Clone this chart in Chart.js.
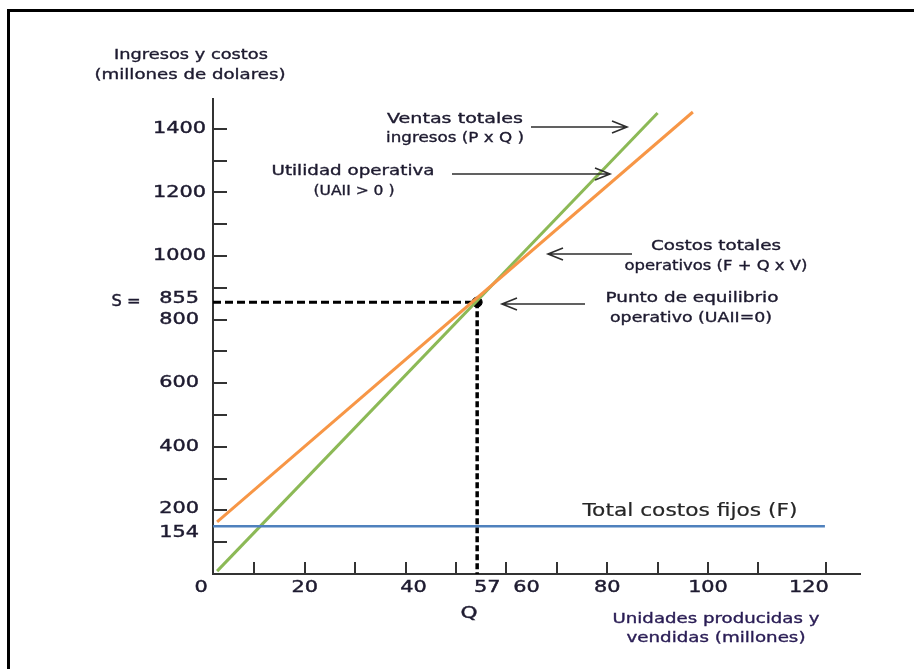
<!DOCTYPE html>
<html>
<head>
<meta charset="utf-8">
<title>Punto de equilibrio operativo</title>
<script src="https://cdn.jsdelivr.net/npm/chart.js@4"></script>
<style>
  html, body { margin: 0; padding: 0; background: #fff; }
  #chart { display: block; }
</style>
</head>
<body>
<canvas id="chart" width="914" height="669"></canvas>
<script>
// Values (Q in millions of units, $ in millions)
const salesQ = [2.6, 90];
const salesValue = [9, 1450];
const costQ = [2.6, 97];
const costValue = [164, 1453];
const fixedQ = [1.8, 123.2];
const fixedValue = [150, 150];
const breakEvenQ = 54.2;
const breakEvenS = 855;

const yTickMarks = [100, 200, 300, 400, 500, 600, 700, 800, 900, 1000, 1100, 1200, 1300, 1400];
const xTickMarks = [10, 20, 30, 40, 50, 60, 70, 80, 90, 100, 110, 123.4];
const yTickLabels = [1400, 1200, 1000, 855, 800, 600, 400, 200, 154];
const xTickLabels = [0, 20, 40, 57, 60, 80, 100, 120];

const X_MIN = 1.786, X_MAX = 130.36, Y_MIN = 0, Y_MAX = 1497;

const GREEN = '#8cb956';
const ORANGE = '#f79646';
const BLUE = '#4f81bd';
const AXIS = '#333333';
const INK = '#1e1b30';
const FONT = '"DejaVu Sans", Verdana, sans-serif';

const pts = (xs, ys) => xs.map((x, i) => ({ x: x, y: ys[i] }));

// draw text squeezed/stretched horizontally, with a light stroke to thicken it
function drawText(ctx, text, x, y, size, opts) {
    opts = opts || {};
    ctx.save();
    ctx.font = size + 'px ' + FONT;
    const w = ctx.measureText(text).width;
    const sx = opts.width ? opts.width / w : (opts.scaleX || 1);
    ctx.translate(x, y);
    ctx.scale(sx, 1);
    ctx.textAlign = opts.align || 'center';
    ctx.textBaseline = 'middle';
    ctx.fillStyle = opts.color || INK;
    ctx.fillText(text, 0, 0);
    if (opts.heavy !== 0) {
        ctx.strokeStyle = opts.color || INK;
        ctx.lineWidth = opts.heavy || 0.35;
        ctx.strokeText(text, 0, 0);
    }
    ctx.restore();
}

function arrow(ctx, x1, y, x2) {
    const dir = x2 > x1 ? 1 : -1;
    ctx.save();
    ctx.strokeStyle = '#2e2e2e';
    ctx.lineWidth = 1.6;
    ctx.beginPath();
    ctx.moveTo(x1, y);
    ctx.lineTo(x2, y);
    ctx.moveTo(x2 - dir * 15, y - 6);
    ctx.lineTo(x2, y);
    ctx.lineTo(x2 - dir * 15, y + 6);
    ctx.stroke();
    ctx.restore();
}

// axes with inward ticks
const axesPlugin = {
    id: 'axes',
    beforeDatasetsDraw(chart) {
        const { ctx, chartArea: a, scales: { x, y } } = chart;
        ctx.save();
        ctx.strokeStyle = AXIS;
        ctx.lineWidth = 2;
        ctx.beginPath();
        ctx.moveTo(a.left, a.top);
        ctx.lineTo(a.left, a.bottom);
        ctx.lineTo(a.right, a.bottom);
        yTickMarks.forEach(v => {
            const py = Math.round(y.getPixelForValue(v));
            ctx.moveTo(a.left, py);
            ctx.lineTo(a.left + 14, py);
        });
        xTickMarks.forEach(v => {
            const px = Math.round(x.getPixelForValue(v));
            ctx.moveTo(px, a.bottom);
            ctx.lineTo(px, a.bottom - 12);
        });
        ctx.stroke();
        ctx.restore();
    }
};

// tick labels and annotations
const labelsPlugin = {
    id: 'labels',
    afterDraw(chart) {
        const { ctx, chartArea: a, scales: { x, y } } = chart;

        // frame
        ctx.save();
        ctx.strokeStyle = '#000';
        ctx.lineWidth = 3;
        ctx.beginPath();
        ctx.moveTo(8.5, 669);
        ctx.lineTo(8.5, 10.5);
        ctx.lineTo(914, 10.5);
        ctx.stroke();
        ctx.restore();

        // y tick labels (nudged like the original)
        const yNudge = { 855: -3, 200: -2, 154: 8 };
        yTickLabels.forEach(v => {
            const py = y.getPixelForValue(v) + (yNudge[v] || 0);
            const right = v >= 1000 ? 206 : 199;
            drawText(ctx, String(v), right, py, 16, { align: 'right', scaleX: 1.3, heavy: 0.45 });
        });

        // x tick labels
        const xNudge = { 0: -3, 40: 8, 57: -4, 60: 20 };
        xTickLabels.forEach(v => {
            const px = x.getPixelForValue(v) + (xNudge[v] || 0);
            drawText(ctx, String(v), px, a.bottom + 14, 16, { scaleX: 1.3, heavy: 0.45 });
        });

        drawText(ctx, 'S =', 126, 302, 16, { width: 29, heavy: 0.45 });
        drawText(ctx, 'Q', 469, 614, 16, { width: 17, heavy: 0.45 });

        // axis titles
        drawText(ctx, 'Ingresos y costos', 191, 55, 14, { width: 154 });
        drawText(ctx, '(millones de dolares)', 190, 75, 14, { width: 191 });
        drawText(ctx, 'Unidades producidas y', 716, 619, 14, { width: 207, color: '#2a1d55' });
        drawText(ctx, 'vendidas (millones)', 716, 638, 14, { width: 179, color: '#2a1d55' });

        // annotations
        drawText(ctx, 'Ventas totales', 455, 119, 14, { width: 136 });
        drawText(ctx, 'ingresos (P x Q )', 455, 138, 14, { width: 138 });
        arrow(ctx, 531, 127, 627);

        drawText(ctx, 'Utilidad operativa', 353, 171, 14, { width: 163 });
        drawText(ctx, '(UAII > 0 )', 354, 191, 14, { width: 81 });
        arrow(ctx, 452, 174, 610);

        drawText(ctx, 'Costos totales', 716, 246, 14, { width: 130 });
        drawText(ctx, 'operativos (F + Q x V)', 716, 266, 14, { width: 183 });
        arrow(ctx, 632, 254, 548);

        drawText(ctx, 'Punto de equilibrio', 692, 298, 14, { width: 173 });
        drawText(ctx, 'operativo (UAII=0)', 691, 318, 14, { width: 162 });
        arrow(ctx, 585, 304, 502);

        drawText(ctx, 'Total costos fijos (F)', 690, 512, 17, { width: 215, color: '#262626', heavy: 0.2 });
    }
};

new Chart(document.getElementById('chart'), {
    type: 'scatter',
    data: {
        datasets: [
            {
                label: 'Total costos fijos (F)',
                data: pts(fixedQ, fixedValue),
                showLine: true,
                borderColor: BLUE,
                borderWidth: 2.5,
                pointRadius: 0
            },
            {
                label: 'Costos totales operativos',
                data: pts(costQ, costValue),
                showLine: true,
                borderColor: ORANGE,
                borderWidth: 3,
                pointRadius: 0
            },
            {
                label: 'Ventas totales',
                data: pts(salesQ, salesValue),
                showLine: true,
                borderColor: GREEN,
                borderWidth: 3,
                pointRadius: 0
            },
            {
                label: 'S',
                data: [{ x: X_MIN, y: breakEvenS }, { x: breakEvenQ, y: breakEvenS }],
                showLine: true,
                borderColor: '#000',
                borderWidth: 3,
                borderDash: [8, 4],
                pointRadius: 0
            },
            {
                label: 'Q',
                data: [{ x: breakEvenQ, y: breakEvenS }, { x: breakEvenQ, y: Y_MIN }],
                showLine: true,
                borderColor: '#000',
                borderWidth: 3.5,
                borderDash: [6, 3],
                pointRadius: 0
            },
            {
                label: 'Punto de equilibrio',
                data: [{ x: breakEvenQ, y: breakEvenS }],
                pointRadius: 5,
                pointBackgroundColor: '#000',
                pointBorderColor: '#000'
            }
        ]
    },
    options: {
        responsive: false,
        animation: false,
        layout: { padding: { left: 213, right: 53, top: 98, bottom: 95 } },
        plugins: {
            legend: { display: false },
            tooltip: { enabled: false }
        },
        scales: {
            x: { type: 'linear', display: false, min: X_MIN, max: X_MAX },
            y: { type: 'linear', display: false, min: Y_MIN, max: Y_MAX }
        }
    },
    plugins: [axesPlugin, labelsPlugin]
});
</script>
</body>
</html>
